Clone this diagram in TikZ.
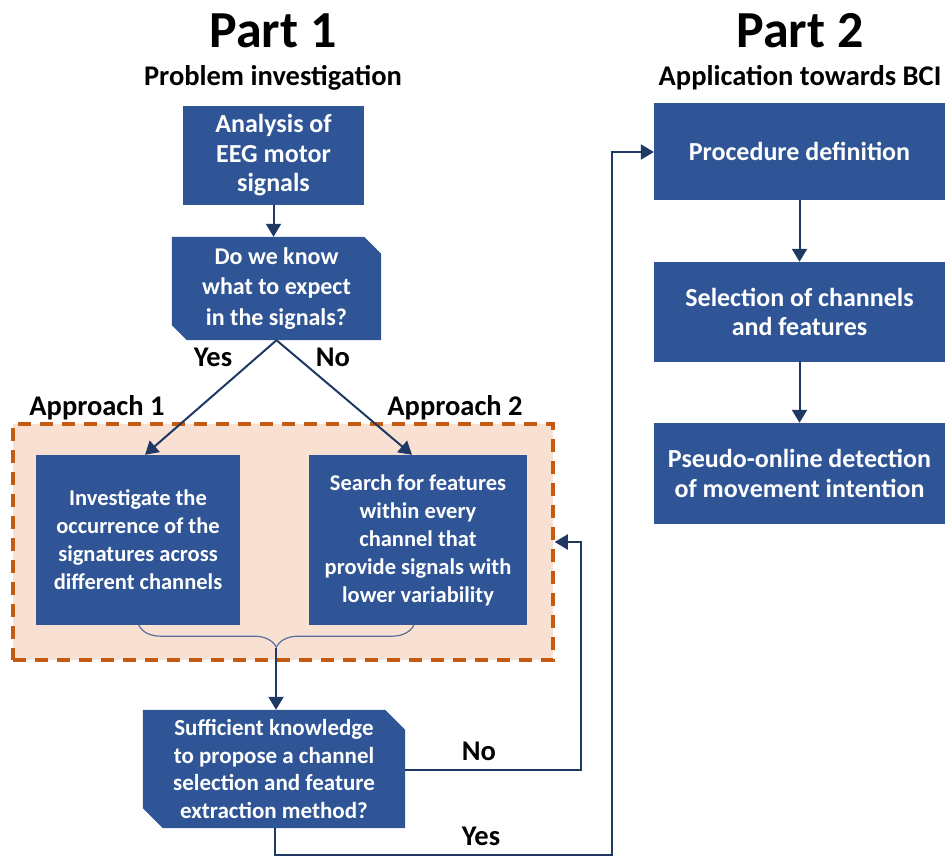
\documentclass[tikz,border=0pt]{standalone}
\usepackage{fontspec}
\setmainfont{Carlito}
\usetikzlibrary{arrows.meta,decorations.pathreplacing,backgrounds,calc}
\definecolor{boxblue}{HTML}{2F5597}
\definecolor{navy}{HTML}{203864}
\definecolor{orng}{HTML}{C55A11}
\definecolor{peach}{HTML}{F8E1D3}
\definecolor{bracec}{HTML}{5A6E9C}
\tikzset{
  bbox/.style={fill=boxblue, text=white, align=center, inner sep=0pt,
     font=\bfseries\fontsize{26}{29.5}\selectfont},
  sbox/.style={fill=boxblue, text=white, align=center, inner sep=0pt,
     font=\bfseries\fontsize{22.5}{28}\selectfont},
  dtext/.style={text=white, align=center, inner sep=0pt},
  lbl/.style={font=\bfseries\fontsize{28.5}{32}\selectfont, inner sep=0pt},
  ttl/.style={font=\bfseries\fontsize{52}{56}\selectfont, inner sep=0pt},
  conn/.style={draw=navy, line width=2pt, -{Triangle[length=13pt,width=15pt]}},
  line/.style={draw=navy, line width=2pt},
}
\begin{document}
\begin{tikzpicture}[x=1pt,y=-1pt]
\useasboundingbox (0,0) rectangle (949,858);
% titles
\node[ttl] (t1) at (273,31) {Part 1};
\node[lbl] (s1) at (273,78) {Problem investigation};
\node[ttl] (t2) at (800,31) {Part 2};
\node[lbl] (s2) at (800,78) {Application towards BCI};
% orange region
\node[fill=peach, draw=orng, line width=3.5pt, dash pattern=on 13pt off 9pt,
      minimum width=540pt, minimum height=236pt, inner sep=0pt] (reg) at (283,542) {};
% boxes
\node[bbox, minimum width=181pt, minimum height=99pt] (ana) at (273.5,155.5) {Analysis of\\EEG motor\\signals};
\node[sbox, minimum width=204pt, minimum height=170pt] (b1) at (138,540) {Investigate the\\occurrence of the\\signatures across\\different channels};
\node[sbox, minimum width=218pt, minimum height=170pt] (b2) at (418,540) {Search for features\\within every\\channel that\\provide signals with\\lower variability};
% decision 1
\node[dtext, minimum width=209pt, minimum height=103pt, font=\bfseries\fontsize{24}{30.5}\selectfont] (d1) at (276.5,288.5) {Do we know\\what to expect\\in the signals?};
% decision 2
\node[dtext, minimum width=262pt, minimum height=118pt, font=\bfseries\fontsize{23}{27.8}\selectfont] (d2) at (274,769) {Sufficient knowledge\\to propose a channel\\selection and feature\\extraction method?};
\begin{scope}[on background layer]
\fill[boxblue] (d1.north west) -- ($(d1.north east)+(-17,0)$) -- ($(d1.north east)+(0,17)$) -- (d1.south east) -- ($(d1.south west)+(15,0)$) -- ($(d1.south west)+(0,-15)$) -- cycle;
\fill[boxblue] (d2.north west) -- ($(d2.north east)+(-20,0)$) -- ($(d2.north east)+(0,20)$) -- (d2.south east) -- ($(d2.south west)+(20,0)$) -- ($(d2.south west)+(0,-20)$) -- cycle;
\end{scope}
% part 2 boxes
\node[bbox, minimum width=291pt, minimum height=97pt] (proc) at (799.5,151.5) {Procedure definition};
\node[bbox, minimum width=291pt, minimum height=100pt] (sel) at (799.5,312) {Selection of channels\\and features};
\node[bbox, minimum width=291pt, minimum height=101pt] (pse) at (799.5,473.5) {Pseudo-online detection\\of movement intention};
% labels
\node[lbl] (yes1) at (213,357) {Yes};
\node[lbl] (no1) at (333,357) {No};
\node[lbl] (ap1) at (97,408) {Approach 1};
\node[lbl] (ap2) at (455,408) {Approach 2};
\node[lbl] (no2) at (479,751) {No};
\node[lbl] (yes2) at (481,836) {Yes};
% brace
\draw[draw=bracec, line width=1.2pt, decorate, decoration={brace, amplitude=22pt, aspect=0.5}]
   ($(b2.south west)+(105,0)$) -- ($(b1.south west)+(103,0)$) coordinate[pos=0.5] (bmid);
\coordinate (btip) at (276,648);
% connectors
\draw[conn] (ana.south) -- (d1.north -| ana.south);
\draw[conn] (d1.south) -- (b1.north -| 145,0);
\draw[conn] (d1.south) -- (b2.north -| 412,0);
\draw[conn] (btip) -- (d2.north -| btip);
\draw[conn] (d2.east |- 0,770) -- (581,770) -- (581,542) -- (reg.east |- 0,542);
\draw[conn] (d2.south -| 275,0) -- (275,855) -- (612,855) -- (612,152) -- (proc.west |- 0,152);
\draw[conn] (proc.south) -- (sel.north);
\draw[conn] (sel.south) -- (pse.north);
\end{tikzpicture}
\end{document}
